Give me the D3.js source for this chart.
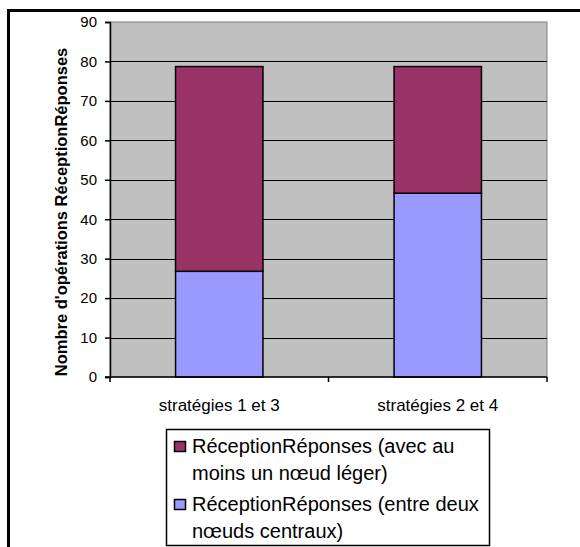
<!DOCTYPE html>
<html>
<head>
<meta charset="utf-8">
<script src="https://cdn.jsdelivr.net/npm/d3@7"></script>
<style>
  body { margin: 0; background: #fff; }
  svg { display: block; font-family: "Liberation Sans", Arial, sans-serif; }
</style>
</head>
<body>
<div id="chart"></div>
<script>
// data
var categories = ["stratégies 1 et 3", "stratégies 2 et 4"];
var centraux = [26.8, 46.6];   // entre deux noeuds centraux (bottom)
var leger = [51.9, 32.1];      // avec au moins un noeud léger (top)
var yTicks = [0, 10, 20, 30, 40, 50, 60, 70, 80, 90];
var seriesNames = [
    ["RéceptionRéponses (avec au", "moins un nœud léger)"],
    ["RéceptionRéponses (entre deux", "nœuds centraux)"]
];
var colors = ["#993366", "#9999FF"];

var W = 580, H = 547;
var plot = {left: 110, right: 547, top: 22, bottom: 377};

var svg = d3.select("#chart").append("svg")
    .attr("width", W)
    .attr("height", H);

// outer frame
svg.append("rect")
    .attr("x", 8.5).attr("y", 10.5)
    .attr("width", W + 10).attr("height", H + 10)
    .attr("fill", "none")
    .attr("stroke", "#000")
    .attr("stroke-width", 3);

var x = d3.scaleBand()
    .domain(categories)
    .range([plot.left, plot.right])
    .paddingInner(0.6)
    .paddingOuter(0.3);

var y = d3.scaleLinear()
    .domain([0, 90])
    .range([plot.bottom, plot.top]);

// plot background
svg.append("rect")
    .attr("x", plot.left).attr("y", plot.top)
    .attr("width", plot.right - plot.left)
    .attr("height", plot.bottom - plot.top)
    .attr("fill", "#C0C0C0")
    .attr("stroke", "#808080")
    .attr("stroke-width", 1);

// gridlines
svg.append("g").selectAll("line")
    .data(yTicks.filter(function(d) { return d > 0 && d < 90; }))
    .enter().append("line")
    .attr("x1", plot.left).attr("x2", plot.right)
    .attr("y1", function(d) { return Math.round(y(d)) + 0.5; })
    .attr("y2", function(d) { return Math.round(y(d)) + 0.5; })
    .attr("stroke", "#000")
    .attr("stroke-width", 1);

// stacked bars
var stackData = categories.map(function(c, i) {
    return {cat: c, centraux: centraux[i], leger: leger[i]};
});
var stack = d3.stack().keys(["centraux", "leger"]);
var layers = stack(stackData);
var layerColor = {centraux: colors[1], leger: colors[0]};

svg.append("g").selectAll("g")
    .data(layers)
    .enter().append("g")
    .attr("fill", function(d) { return layerColor[d.key]; })
    .selectAll("rect")
    .data(function(d) { return d; })
    .enter().append("rect")
    .attr("x", function(d) { return x(d.data.cat); })
    .attr("y", function(d) { return y(d[1]); })
    .attr("width", x.bandwidth())
    .attr("height", function(d) { return y(d[0]) - y(d[1]); })
    .attr("stroke", "#000")
    .attr("stroke-width", 1.5);

// y axis
var yAxis = svg.append("g")
    .attr("transform", "translate(" + plot.left + ",0)")
    .call(d3.axisLeft(y).tickValues(yTicks).tickSize(5).tickPadding(8));
yAxis.select(".domain").attr("stroke", "#000").attr("stroke-width", 1.5);
yAxis.selectAll(".tick line").attr("stroke-width", 1.5);
yAxis.selectAll("text")
    .style("font-family", "Liberation Sans, Arial, sans-serif")
    .style("font-size", "15px")
    .attr("fill", "#000");

// x axis
svg.append("line")
    .attr("x1", plot.left - 5).attr("x2", plot.right)
    .attr("y1", plot.bottom).attr("y2", plot.bottom)
    .attr("stroke", "#000").attr("stroke-width", 1.5);

svg.append("g").selectAll("line")
    .data(d3.range(categories.length + 1))
    .enter().append("line")
    .attr("x1", function(i) { return plot.left + i * x.step(); })
    .attr("x2", function(i) { return plot.left + i * x.step(); })
    .attr("y1", plot.bottom).attr("y2", plot.bottom + 5)
    .attr("stroke", "#000").attr("stroke-width", 1.5);

svg.append("g").selectAll("text")
    .data(categories)
    .enter().append("text")
    .attr("x", function(d) { return x(d) + x.bandwidth() / 2; })
    .attr("y", 411)
    .attr("text-anchor", "middle")
    .style("font-size", "17px")
    .text(function(d) { return d; });

// y axis title
svg.append("text")
    .attr("transform", "translate(67,212) rotate(-90)")
    .attr("text-anchor", "middle")
    .style("font-size", "16.5px")
    .style("font-weight", "bold")
    .text("Nombre d'opérations RéceptionRéponses");

// legend
var legend = svg.append("g");
legend.append("rect")
    .attr("x", 166.5).attr("y", 429.5)
    .attr("width", 323).attr("height", 116)
    .attr("fill", "#fff")
    .attr("stroke", "#000")
    .attr("stroke-width", 1.5);

var items = legend.selectAll("g.item")
    .data(seriesNames)
    .enter().append("g")
    .attr("class", "item")
    .attr("transform", function(d, i) { return "translate(0," + (i * 58) + ")"; });

items.append("rect")
    .attr("x", 174.5).attr("y", 441.5)
    .attr("width", 11).attr("height", 10)
    .attr("fill", function(d, i) { return colors[i]; })
    .attr("stroke", "#000")
    .attr("stroke-width", 1.5);

items.selectAll("text")
    .data(function(d) { return d; })
    .enter().append("text")
    .attr("x", 192)
    .attr("y", function(d, j) { return 453 + j * 27; })
    .style("font-size", "20px")
    .text(function(d) { return d; });
</script>
</body>
</html>
